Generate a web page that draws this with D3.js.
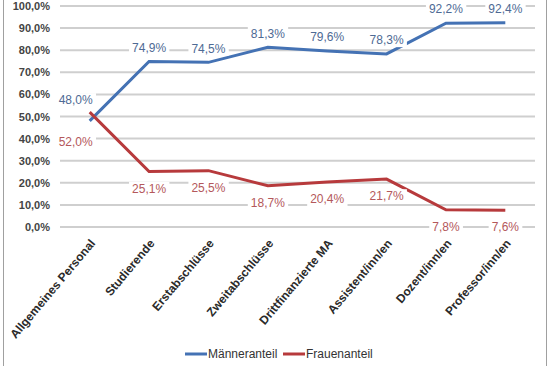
<!DOCTYPE html>
<html>
<head>
<meta charset="utf-8">
<script src="https://cdn.jsdelivr.net/npm/d3@7"></script>
<style>
  body { margin: 0; background: #fff; }
  text { font-family: "Liberation Sans", Arial, sans-serif; }
</style>
</head>
<body>
<div id="chart"></div>
<script>
// chart data
var categories = ["Allgemeines Personal", "Studierende", "Erstabschlüsse", "Zweitabschlüsse",
    "Drittfinanzierte MA", "Assistent/inn/en", "Dozent/inn/en", "Professor/inn/en"];
var maenner = [48.0, 74.9, 74.5, 81.3, 79.6, 78.3, 92.2, 92.4];
var frauen = [52.0, 25.1, 25.5, 18.7, 20.4, 21.7, 7.8, 7.6];
var yTicks = [0, 10, 20, 30, 40, 50, 60, 70, 80, 90, 100];
var seriesNames = ["Männeranteil", "Frauenanteil"];

var w = 550;
var h = 366;

var svg = d3.select("#chart")
    .append("svg")
    .attr("width", w)
    .attr("height", h);

// outer frame
svg.append("rect")
    .attr("x", 3.5).attr("y", -2)
    .attr("width", 543).attr("height", h + 4)
    .attr("fill", "none")
    .attr("stroke", "#a0a0a0")
    .attr("stroke-width", 1);

var x = d3.scaleBand()
    .domain(categories)
    .range([60, 535]);

var y = d3.scaleLinear()
    .domain([0, 100])
    .range([227, 6]);

var fmt = function (v) { return v.toFixed(1).replace(".", ",") + "%"; };

// gridlines
svg.append("g")
    .selectAll("line")
    .data(yTicks)
    .enter()
    .append("line")
    .attr("x1", 60).attr("x2", 535)
    .attr("y1", (d) => y(d)).attr("y2", (d) => y(d))
    .attr("stroke", "#cfcfcf")
    .attr("stroke-width", 2);

// y axis labels
var yAxis = d3.axisLeft(y)
    .tickValues(yTicks)
    .tickSize(0)
    .tickPadding(0)
    .tickFormat(fmt);
var gy = svg.append("g")
    .attr("transform", "translate(50,0)")
    .call(yAxis);
gy.select(".domain").remove();
gy.selectAll("text")
    .attr("font-size", 11)
    .attr("font-weight", "bold")
    .attr("fill", "#444")
    .attr("font-family", "'Liberation Sans', Arial, sans-serif");

// x axis labels, rotated
var xAxis = d3.axisBottom(x).tickSize(0).tickPadding(0);
var gx = svg.append("g")
    .attr("transform", "translate(0,241)")
    .call(xAxis);
gx.select(".domain").remove();
gx.selectAll("text")
    .attr("font-size", 12)
    .attr("font-weight", "bold")
    .attr("fill", "#2a2a2a")
    .attr("font-family", "'Liberation Sans', Arial, sans-serif")
    .attr("text-anchor", "end")
    .attr("dy", "0.35em")
    .attr("transform", "translate(3,0) rotate(-50)");

var cx = (d, i) => x(categories[i]) + x.bandwidth() / 2;

var line = d3.line()
    .x((d, i) => cx(d, i))
    .y((d) => y(d));

var series = [
    { name: seriesNames[0], values: maenner, color: "#4472b4", labelColor: "#4e6a94", above: true },
    { name: seriesNames[1], values: frauen, color: "#b73a3c", labelColor: "#b4585b", above: false }
];

series.forEach(function (s) {
    svg.append("path")
        .datum(s.values)
        .attr("d", line)
        .attr("fill", "none")
        .attr("stroke", s.color)
        .attr("stroke-width", 3);
});

// data labels with white boxes
series.forEach(function (s) {
    var g = svg.append("g");
    s.values.forEach(function (v, i) {
        var lx = cx(v, i) + (i === 0 ? -14 : 0);
        var ly = s.above ? y(v) - 14 : y(v) + 17;
        if (i === 0) ly = s.above ? y(v) - 21 : y(v) + 30;
        var lg = g.append("g");
        var t = lg.append("text")
            .attr("x", lx).attr("y", ly)
            .attr("text-anchor", "middle")
            .attr("dy", "0.35em")
            .attr("font-size", 12)
            .attr("fill", s.labelColor)
            .text(fmt(v));
        var bb = t.node().getBBox();
        lg.insert("rect", "text")
            .attr("x", bb.x - 3).attr("y", bb.y)
            .attr("width", bb.width + 6).attr("height", bb.height)
            .attr("fill", "#fff");
    });
});

// legend
var legend = svg.append("g").attr("transform", "translate(185,354)");
var lx0 = [0, 98];
series.forEach(function (s, i) {
    legend.append("line")
        .attr("x1", lx0[i]).attr("x2", lx0[i] + 22)
        .attr("y1", 0).attr("y2", 0)
        .attr("stroke", s.color)
        .attr("stroke-width", 3);
    legend.append("text")
        .attr("x", lx0[i] + 23).attr("y", 0)
        .attr("dy", "0.35em")
        .attr("font-size", 12)
        .attr("fill", "#333")
        .text(s.name);
});
</script>
</body>
</html>
